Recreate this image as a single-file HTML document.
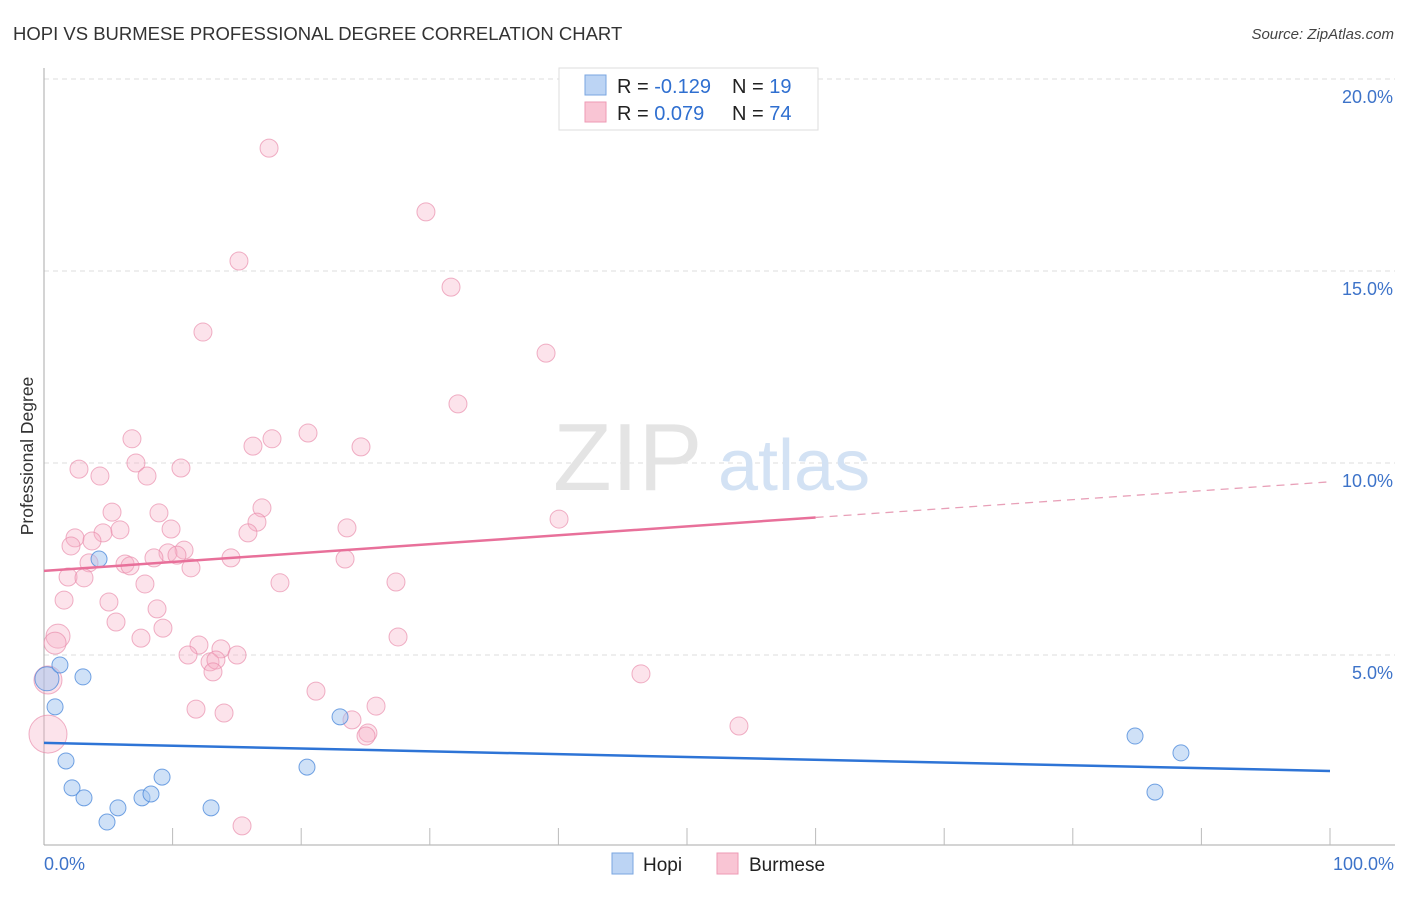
<!DOCTYPE html>
<html><head><meta charset="utf-8"><style>
body{margin:0;background:#fff;font-family:"Liberation Sans",sans-serif;}
svg text{font-family:"Liberation Sans",sans-serif;}
</style></head><body>
<svg id="chart" width="1406" height="892" viewBox="0 0 1406 892" xmlns="http://www.w3.org/2000/svg">
<text x="13" y="40" font-size="18.5" fill="#333">HOPI VS BURMESE PROFESSIONAL DEGREE CORRELATION CHART</text>
<text x="1394" y="39" font-size="15" fill="#444" font-style="italic" text-anchor="end">Source: ZipAtlas.com</text>
<g id="grid"></g>
<g><text x="553" y="490" font-size="96" fill="#e4e4e4" font-family="Liberation Serif, serif">ZIP</text><text x="718" y="490" font-size="72" fill="#d3e2f4">atlas</text></g>
<line x1="44" y1="68" x2="44" y2="845" stroke="#aaa" stroke-width="1"/>
<line x1="44" y1="845" x2="1395" y2="845" stroke="#aaa" stroke-width="1"/>
<g id="xticks"></g>
<g id="pts"></g>
<g id="trends"></g>
<text transform="translate(33,456) rotate(-90)" font-size="17.5" fill="#333" text-anchor="middle">Professional Degree</text>
<text x="44" y="870" font-size="18" fill="#3d73c9">0.0%</text>
<text x="1394" y="870" font-size="18" fill="#3d73c9" text-anchor="end">100.0%</text>
<g>
<rect x="559" y="68" width="259" height="62" fill="#fff" stroke="#ddd"/>
<rect x="585" y="75" width="21" height="20" fill="#bcd4f4" stroke="#7aa6e0"/>
<rect x="585" y="102" width="21" height="20" fill="#f9c5d4" stroke="#ee9ab4"/>
<text x="617" y="93" font-size="20" fill="#222">R = <tspan fill="#2f6fd0">-0.129</tspan></text>
<text x="732" y="93" font-size="20" fill="#222">N = <tspan fill="#2f6fd0">19</tspan></text>
<text x="617" y="120" font-size="20" fill="#222">R = <tspan fill="#2f6fd0"> 0.079</tspan></text>
<text x="732" y="120" font-size="20" fill="#222">N = <tspan fill="#2f6fd0">74</tspan></text>
</g>
<g><rect x="612" y="853" width="21" height="21" fill="#bcd4f4" stroke="#7aa6e0"/><text x="643" y="871" font-size="19" fill="#222">Hopi</text></g>
<g><rect x="717" y="853" width="21" height="21" fill="#f9c5d4" stroke="#ee9ab4"/><text x="749" y="871" font-size="19" fill="#222">Burmese</text></g>
</svg>
<script>
const yTicks=[5,10,15,20];
const yTickLabels=["5.0%","10.0%","15.0%","20.0%"];
const hopiX=[0.23,1.24,3.03,0.86,1.71,2.18,3.11,4.28,4.90,5.75,7.62,8.32,9.18,12.99,20.45,23.02,84.84,88.41,86.39];
const hopiY=[4.38,4.74,4.43,3.65,2.24,1.54,1.28,7.50,0.65,1.02,1.28,1.38,1.82,1.02,2.08,3.39,2.89,2.45,1.43];
const burX=[17.50,29.70,15.16,31.65,12.36,39.04,32.19,6.84,16.25,17.73,20.53,24.65,2.72,7.15,10.65,4.35,8.01,16.95,5.29,8.94,16.56,23.56,40.05,4.59,5.91,9.88,2.41,3.73,2.10,15.86,10.89,9.64,10.34,8.55,14.54,23.41,3.50,6.30,6.69,11.43,1.87,3.11,7.85,18.35,27.37,1.56,5.05,8.79,5.60,9.25,7.54,27.53,1.09,0.86,12.05,11.20,13.76,15.01,12.91,13.37,13.14,46.42,21.15,11.82,14.00,25.82,23.95,25.19,25.04,54.04,0.31,0.31,15.40];
const burY=[18.20,16.54,15.26,14.58,13.41,12.86,11.54,10.63,10.44,10.63,10.78,10.42,9.84,10.00,9.87,9.66,9.66,8.83,8.72,8.70,8.46,8.31,8.54,8.18,8.26,8.28,8.05,7.97,7.84,8.18,7.73,7.66,7.60,7.53,7.53,7.50,7.40,7.37,7.32,7.27,7.03,7.01,6.85,6.88,6.90,6.43,6.38,6.20,5.86,5.70,5.44,5.47,5.49,5.31,5.26,5.00,5.16,5.00,4.82,4.87,4.56,4.51,4.06,3.59,3.49,3.67,3.31,2.97,2.89,3.15,2.94,4.35,0.55];
const hopiTrend=[2.71,1.98];
const burTrend=[7.19,9.51];
const X=v=>44+v*12.86, Y=v=>847-v*38.4;
const NS="http://www.w3.org/2000/svg";
function mk(tag,parent,attrs){const e=document.createElementNS(NS,tag);for(const k in attrs)e.setAttribute(k,attrs[k]);document.getElementById(parent).appendChild(e);return e;}
yTicks.forEach((t,i)=>{
 const l=mk('line','grid',{x1:44,x2:1395,y1:Y(t),y2:Y(t),stroke:'#ddd','stroke-dasharray':'5,4'});
 
 
 const tx=mk('text','grid',{x:1393,y:Y(t)+24,'font-size':18,fill:'#3d73c9','text-anchor':'end'});
 tx.textContent=yTickLabels[i];
 
 
});
for(let k=1;k<=10;k++){
 const l=mk('line','xticks',{x1:X(k*10),x2:X(k*10),y1:828,y2:845,stroke:'#bbb'});
 
 
}
const bigB={70:19,71:14,52:12,53:11};
burX.forEach((x,i)=>{
 const c=mk('circle','pts',{cx:X(x),cy:Y(burY[i]),r:bigB[i]||9,fill:'rgba(247,175,198,0.35)',stroke:'rgba(232,135,168,0.65)','stroke-width':1});
 
 
});
hopiX.forEach((x,i)=>{
 const c=mk('circle','pts',{cx:X(x),cy:Y(hopiY[i]),r:i===0?12:8,fill:'rgba(160,195,240,0.5)',stroke:'rgba(80,140,220,0.8)','stroke-width':1});
 
 
});
const bAt=v=>burTrend[0]+(burTrend[1]-burTrend[0])*v/100;
let l1=mk('line','trends',{x1:X(0),y1:Y(bAt(0)),x2:X(60),y2:Y(bAt(60)),stroke:'#e8709a','stroke-width':2.5});


let l2=mk('line','trends',{x1:X(60),y1:Y(bAt(60)),x2:X(100),y2:Y(bAt(100)),stroke:'#e8a0b8','stroke-width':1.3,'stroke-dasharray':'8,6'});


let l3=mk('line','trends',{x1:X(0),y1:Y(hopiTrend[0]),x2:X(100),y2:Y(hopiTrend[1]),stroke:'#2e74d6','stroke-width':2.5});


</script>
</body></html>
